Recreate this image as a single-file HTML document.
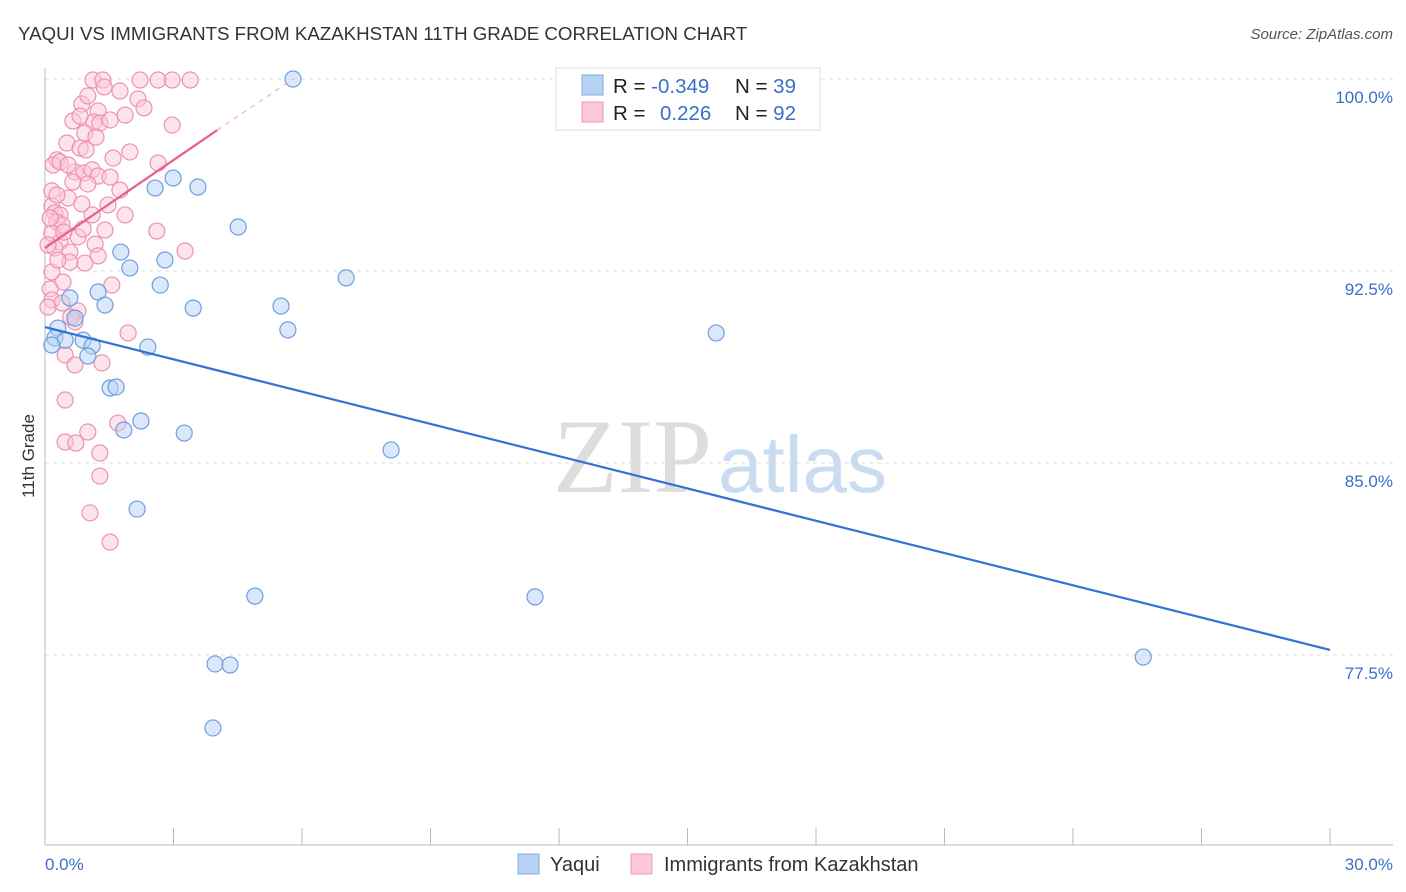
<!DOCTYPE html>
<html><head><meta charset="utf-8"><style>
body{margin:0;background:#fff;font-family:"Liberation Sans",sans-serif;}
svg{display:block}
</style></head><body>
<svg id="chart" width="1406" height="892">
<text x="18" y="40" font-size="18.7" fill="#333">YAQUI VS IMMIGRANTS FROM KAZAKHSTAN 11TH GRADE CORRELATION CHART</text>
<text x="1393" y="39" font-size="15" fill="#555" font-style="italic" text-anchor="end">Source: ZipAtlas.com</text>
<text x="553" y="492" font-size="106" fill="#ddd" font-family="Liberation Serif">ZIP</text>
<text x="718" y="492" font-size="80" fill="#c9dcf0">atlas</text>
<g id="grid"></g><g id="axes"></g><g id="marks"></g>
<text transform="translate(34,456) rotate(-90)" font-size="17" fill="#333" text-anchor="middle">11th Grade</text>
<text x="45" y="870" font-size="17" fill="#3a6fc8">0.0%</text>
<text x="1393" y="870" font-size="17" fill="#3a6fc8" text-anchor="end">30.0%</text>
<g>
<rect x="556" y="68" width="264" height="62" fill="#fff" stroke="#ddd"/>
<rect x="582" y="75" width="21" height="20" fill="#b8d2f4" stroke="#7ea8e6"/>
<rect x="582" y="102" width="21" height="20" fill="#fcc8d8" stroke="#ee9ab5"/>
<text x="613" y="93" font-size="20.5" fill="#222">R = <tspan fill="#3a6fc8">-0.349</tspan></text>
<text x="735" y="93" font-size="20.5" fill="#222">N = <tspan fill="#3a6fc8">39</tspan></text>
<text x="613" y="120" font-size="20.5" fill="#222">R = <tspan fill="#3a6fc8" x="660">0.226</tspan></text>
<text x="735" y="120" font-size="20.5" fill="#222">N = <tspan fill="#3a6fc8">92</tspan></text>
</g>
<g>
<rect x="518" y="854" width="21" height="20" fill="#b8d2f4" stroke="#7ea8e6"/>
<text x="550" y="871" font-size="20" fill="#333">Yaqui</text>
<rect x="631" y="854" width="21" height="20" fill="#fcc8d8" stroke="#ee9ab5"/>
<text x="664" y="871" font-size="20" fill="#333">Immigrants from Kazakhstan</text>
</g>
</svg>
<script>
const yTicks=[100,92.5,85,77.5];
const yTickLabels=["100.0%","92.5%","85.0%","77.5%"];
const blueX=[5.79,2.57,2.99,3.57,4.51,1.77,1.98,2.80,2.69,1.24,1.40,3.46,5.51,5.67,7.03,15.67,0.58,0.30,0.23,0.89,0.47,1.10,2.40,0.16,1.00,1.52,1.66,2.24,1.84,3.25,8.08,2.15,4.90,11.44,3.97,4.32,3.92,25.64,0.70];
const blueY=[100,95.74,96.13,95.78,94.22,93.24,92.62,92.93,91.95,91.68,91.17,91.05,91.13,90.20,92.23,90.08,91.45,90.27,89.88,89.80,89.80,89.57,89.53,89.61,89.18,87.93,87.97,86.64,86.29,86.17,85.51,83.20,79.80,79.77,77.15,77.11,74.65,77.42,90.66];
const pinkX=[1.12,1.35,2.64,2.97,3.39,0.86,1.38,1.75,2.17,2.31,1.00,1.24,1.87,0.65,0.82,1.14,1.28,2.97,0.93,1.19,0.51,0.82,1.59,0.28,0.19,0.35,2.64,0.70,0.91,1.10,1.24,1.52,0.65,1.00,1.75,0.16,0.54,0.86,0.16,0.23,0.35,1.87,0.28,0.40,1.40,2.61,0.16,0.77,0.35,1.17,3.27,0.23,0.58,1.24,0.16,0.93,0.42,1.56,0.12,0.16,0.40,0.07,0.77,0.70,1.94,0.47,0.70,1.33,0.47,1.70,1.00,0.47,0.72,1.28,1.28,1.05,1.52,0.12,0.07,1.10,0.54,1.52,0.28,0.44,0.96,1.98,2.22,0.58,0.30,1.47,0.89,0.60];
const pinkY=[99.96,99.96,99.96,99.96,99.96,99.02,99.69,99.53,99.22,98.87,99.34,98.75,98.59,98.36,98.55,98.32,98.28,98.20,97.89,97.73,97.50,97.30,96.91,96.84,96.64,96.76,96.72,96.37,96.33,96.45,96.21,96.17,95.98,95.90,95.66,95.63,95.35,95.12,95.04,94.77,94.69,94.69,94.41,94.30,94.10,94.06,93.98,93.83,93.63,93.55,93.28,93.40,93.24,93.09,92.46,92.81,92.07,91.95,91.80,91.37,91.25,91.09,90.94,90.51,90.08,89.22,88.83,88.91,87.46,86.56,86.21,85.82,85.78,85.39,84.49,83.05,81.91,94.57,93.52,94.69,96.64,98.40,95.47,94.02,97.23,97.15,99.96,92.85,92.93,95.08,94.14,90.70];
const blueTrend=[[0,90.31],[30,77.70]];
const pinkTrend=[[0,93.40],[4.02,98.0]];
const pinkTrendExt=[[4.02,98.0],[5.79,100]];
const NS="http://www.w3.org/2000/svg";
const xs=v=>45+v*1285/30;
const ys=v=>79+(100-v)*25.6;
const grid=document.getElementById('grid'),axes=document.getElementById('axes'),marks=document.getElementById('marks');
function mk(tag,a,p){const e=document.createElementNS(NS,tag);for(const k in a)e.setAttribute(k,a[k]);p.appendChild(e);return e;}
yTicks.forEach((t,i)=>{
 const l=mk('line',{x1:45,x2:1393,y1:ys(t),y2:ys(t),stroke:'#ddd','stroke-dasharray':'4,4'},grid);
 
 
 const tx=mk('text',{x:1393,y:ys(t)+24,'font-size':17,fill:'#3a6fc8','text-anchor':'end'},grid);
 tx.textContent=yTickLabels[i];
 
 
});
const xa=mk('line',{x1:45,x2:1393,y1:845,y2:845,stroke:'#bbb'},axes);


const ya=mk('line',{x1:45,x2:45,y1:68,y2:845,stroke:'#bbb'},axes);


for(let v=0;v<=30;v+=3){
 const t=mk('line',{x1:xs(v),x2:xs(v),y1:828,y2:845,stroke:'#bbb'},axes);
 
 
}
function pts(X,Y,fill,stroke,name){
 X.forEach((x,i)=>{
  const c=mk('circle',{cx:xs(x),cy:ys(Y[i]),r:8,fill:fill,'fill-opacity':0.5,stroke:stroke,'stroke-width':1.2},marks);
  
  
 });
}
pts(pinkX,pinkY,'#fcc8d8','#ec92b0','kazakhstan-point');
pts(blueX,blueY,'#b8d2f4','#6d9ee0','yaqui-point');
function line(d,col,w,dash,name){
 const l=mk('line',{x1:xs(d[0][0]),y1:ys(d[0][1]),x2:xs(d[1][0]),y2:ys(d[1][1]),stroke:col,'stroke-width':w},marks);
 if(dash)l.setAttribute('stroke-dasharray',dash);
 
 
}
line(blueTrend,'#2f73d6',2.2,null,'yaqui-trendline');
line(pinkTrend,'#e8608c',2.2,null,'kazakhstan-trendline');
line(pinkTrendExt,'#f0b0c4',1.2,'5,5','kazakhstan-trendline-extension');
</script>
</body></html>
